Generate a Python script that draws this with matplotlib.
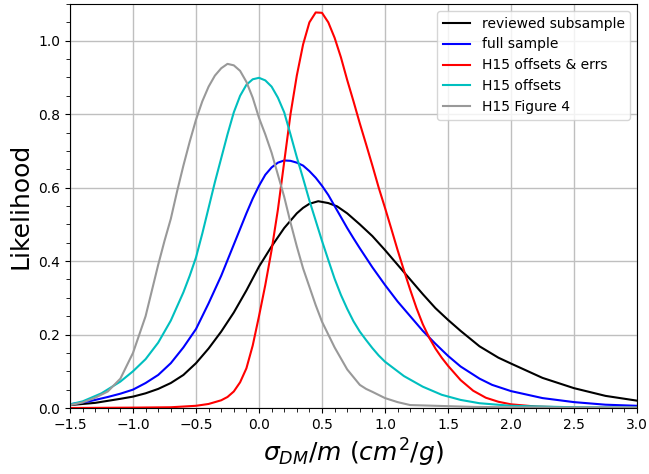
"""Likelihood curves for sigma_DM/m from the different samples."""

import matplotlib

matplotlib.use("Agg")
from matplotlib import pyplot as plt
from matplotlib.ticker import MultipleLocator

# reviewed subsample
x_black = [-1.5, -1.3, -1.1, -1.0, -0.9, -0.8, -0.7, -0.6, -0.5, -0.4, -0.3, -0.2,
           -0.1, 0.0, 0.1, 0.2, 0.3, 0.35, 0.4, 0.47, 0.55, 0.62, 0.7, 0.8, 0.9,
           1.0, 1.1, 1.2, 1.3, 1.4, 1.5, 1.6, 1.75, 1.9, 2.0, 2.25, 2.5, 2.75, 3.0]
y_black = [0.008, 0.014, 0.025, 0.031, 0.04, 0.052, 0.068, 0.09, 0.122, 0.162,
           0.208, 0.26, 0.32, 0.385, 0.44, 0.49, 0.53, 0.545, 0.556, 0.563, 0.558,
           0.549, 0.53, 0.50, 0.468, 0.43, 0.39, 0.35, 0.31, 0.272, 0.24, 0.21,
           0.168, 0.137, 0.121, 0.082, 0.054, 0.033, 0.02]

# full sample
x_blue = [-1.5, -1.35, -1.2, -1.1, -1.0, -0.9, -0.8, -0.7, -0.6, -0.5, -0.4, -0.3,
          -0.2, -0.1, -0.05, 0.0, 0.05, 0.1, 0.15, 0.2, 0.25, 0.3, 0.35, 0.4, 0.45,
          0.5, 0.55, 0.6, 0.65, 0.7, 0.75, 0.8, 0.9, 1.0, 1.1, 1.2, 1.3, 1.4, 1.5,
          1.6, 1.75, 1.85, 2.0, 2.25, 2.5, 2.75, 3.0]
y_blue = [0.01, 0.018, 0.03, 0.039, 0.05, 0.068, 0.09, 0.122, 0.165, 0.215, 0.285,
          0.36, 0.445, 0.53, 0.57, 0.605, 0.635, 0.655, 0.668, 0.674, 0.673, 0.668,
          0.66, 0.645, 0.627, 0.605, 0.58, 0.55, 0.52, 0.49, 0.462, 0.435, 0.383,
          0.335, 0.29, 0.25, 0.21, 0.175, 0.142, 0.113, 0.08, 0.063, 0.046, 0.027,
          0.016, 0.009, 0.006]

# H15 offsets & errs
x_red = [-1.5, -1.0, -0.7, -0.5, -0.4, -0.3, -0.25, -0.2, -0.15, -0.1, -0.05, 0.0,
         0.05, 0.1, 0.15, 0.2, 0.25, 0.3, 0.35, 0.4, 0.45, 0.5, 0.55, 0.6, 0.65,
         0.7, 0.75, 0.8, 0.85, 0.9, 0.95, 1.0, 1.05, 1.1, 1.15, 1.2, 1.25, 1.3,
         1.35, 1.4, 1.45, 1.5, 1.6, 1.7, 1.8, 1.9, 2.0, 2.2, 2.5, 3.0]
y_red = [0.0, 0.001, 0.002, 0.006, 0.011, 0.021, 0.03, 0.045, 0.07, 0.108, 0.17,
         0.25, 0.335, 0.43, 0.54, 0.67, 0.80, 0.905, 0.99, 1.05, 1.077, 1.076,
         1.05, 1.008, 0.955, 0.893, 0.835, 0.775, 0.718, 0.66, 0.60, 0.545, 0.488,
         0.43, 0.375, 0.322, 0.272, 0.228, 0.192, 0.162, 0.137, 0.115, 0.076,
         0.047, 0.028, 0.017, 0.010, 0.004, 0.001, 0.0]

# H15 offsets
x_cyan = [-1.5, -1.4, -1.25, -1.1, -1.0, -0.9, -0.8, -0.7, -0.6, -0.55, -0.5,
          -0.45, -0.4, -0.35, -0.3, -0.25, -0.2, -0.15, -0.1, -0.05, 0.0, 0.05,
          0.1, 0.15, 0.2, 0.25, 0.3, 0.35, 0.4, 0.45, 0.5, 0.55, 0.6, 0.65, 0.7,
          0.75, 0.8, 0.85, 0.9, 0.95, 1.0, 1.15, 1.3, 1.45, 1.6, 1.75, 2.0, 2.5,
          3.0]
y_cyan = [0.01, 0.018, 0.04, 0.072, 0.10, 0.133, 0.178, 0.238, 0.315, 0.36, 0.41,
          0.475, 0.545, 0.615, 0.68, 0.745, 0.805, 0.85, 0.88, 0.895, 0.899, 0.892,
          0.875, 0.845, 0.805, 0.745, 0.683, 0.625, 0.565, 0.51, 0.455, 0.403,
          0.352, 0.308, 0.27, 0.236, 0.208, 0.185, 0.163, 0.143, 0.126, 0.087,
          0.058, 0.036, 0.022, 0.013, 0.006, 0.002, 0.001]

x_gray = [-1.5, -1.4, -1.3, -1.2, -1.1, -1.0, -0.95, -0.9, -0.85, -0.8, -0.75,
          -0.7, -0.65, -0.6, -0.55, -0.5, -0.45, -0.4, -0.35, -0.3, -0.25, -0.2,
          -0.15, -0.1, -0.05, 0.0, 0.05, 0.1, 0.15, 0.2, 0.25, 0.3, 0.35, 0.4,
          0.45, 0.5, 0.6, 0.7, 0.8, 0.85, 0.9, 1.0, 1.1, 1.2, 1.3, 1.4, 1.5, 1.7,
          2.0, 2.5, 3.0]
y_gray = [0.008, 0.015, 0.028, 0.045, 0.08, 0.15, 0.20, 0.25, 0.32, 0.39, 0.455,
          0.515, 0.59, 0.66, 0.725, 0.785, 0.835, 0.875, 0.905, 0.925, 0.937,
          0.933, 0.918, 0.888, 0.845, 0.79, 0.745, 0.695, 0.635, 0.575, 0.505,
          0.44, 0.38, 0.33, 0.28, 0.235, 0.165, 0.105, 0.063, 0.052, 0.044, 0.027,
          0.016, 0.008, 0.007, 0.006, 0.005, 0.003, 0.002, 0.001, 0.001]

fig = plt.figure(figsize=(6.49, 4.74), dpi=100)
ax = fig.add_axes([70 / 649, 66 / 474, 567 / 649, 404 / 474])

ax.plot(x_black, y_black, color="k", lw=1.5, label="reviewed subsample")
ax.plot(x_blue, y_blue, color="b", lw=1.5, label="full sample")
ax.plot(x_red, y_red, color="r", lw=1.5, label="H15 offsets & errs")
ax.plot(x_cyan, y_cyan, color="c", lw=1.5, label="H15 offsets")
ax.plot(x_gray, y_gray, color="0.6", lw=1.5, label="H15 Figure 4")

ax.set_xlim(-1.5, 3.0)
ax.set_ylim(0, 1.1)
ax.xaxis.set_minor_locator(MultipleLocator(0.1))
ax.yaxis.set_minor_locator(MultipleLocator(0.05))
ax.tick_params(which="minor", length=3)
ax.grid(True, which="major", color="0.75", lw=1)
ax.set_axisbelow(True)

ax.set_xlabel(r"$\sigma_{DM}/m\ (cm^2/g)$", fontsize=18)
ax.set_ylabel("Likelihood", fontsize=18)
ax.legend(loc="upper right", fontsize=10)

fig.savefig("out.png", dpi=100)
